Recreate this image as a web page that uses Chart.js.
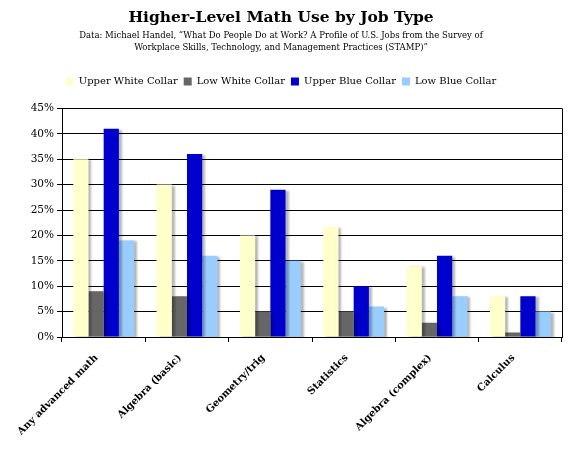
<!DOCTYPE html>
<html>
<head>
<meta charset="utf-8">
<script src="https://cdn.jsdelivr.net/npm/chart.js@4"></script>
<style>
  html, body { margin: 0; padding: 0; background: #fff; }
  #wrap { width: 568px; height: 451px; }
</style>
</head>
<body>
<div id="wrap"><canvas id="chart" width="568" height="451"></canvas></div>
<script>
const categories = [
  "Any advanced math",
  "Algebra (basic)",
  "Geometry/trig",
  "Statistics",
  "Algebra (complex)",
  "Calculus",
];
const upperWhite = [35, 30, 20, 21.7, 13.9, 8];
const lowWhite = [9, 8, 5, 5, 2.8, 0.9];
const upperBlue = [41, 36, 29, 10, 16, 8];
const lowBlue = [19, 16, 15, 6, 8, 5];
const yTicks = [0, 5, 10, 15, 20, 25, 30, 35, 40, 45];

const serif = "'DejaVu Serif', serif";

// soft grey drop shadow behind the bars, like the original
const barShadow = {
  id: "barShadow",
  beforeDatasetsDraw(chart) {
    const ctx = chart.ctx;
    ctx.save();
    ctx.shadowColor = "rgba(0,0,0,0.28)";
    ctx.shadowOffsetX = 3;
    ctx.shadowOffsetY = 1;
    ctx.shadowBlur = 2;
  },
  afterDatasetsDraw(chart) {
    chart.ctx.restore();
  },
};

// extra gap under the legend
const legendGap = {
  id: "legendGap",
  beforeLayout(chart) {
    const lg = chart.legend;
    if (lg && !lg._gapPatched) {
      const fit = lg.fit.bind(lg);
      lg.fit = function () {
        fit();
        this.height += 12;
      };
      lg._gapPatched = true;
    }
  },
};

// right-hand frame line
const frame = {
  id: "frame",
  afterDraw(chart) {
    const { ctx, chartArea } = chart;
    ctx.save();
    ctx.strokeStyle = "#000";
    ctx.lineWidth = 1;
    ctx.beginPath();
    ctx.moveTo(Math.round(chartArea.right) + 0.5, chartArea.top);
    ctx.lineTo(Math.round(chartArea.right) + 0.5, chartArea.bottom);
    ctx.stroke();
    ctx.restore();
  },
};

new Chart(document.getElementById("chart").getContext("2d"), {
  type: "bar",
  data: {
    labels: categories,
    datasets: [
      { label: "Upper White Collar", data: upperWhite, backgroundColor: "#FFFFCC" },
      { label: "Low White Collar", data: lowWhite, backgroundColor: "#666666" },
      { label: "Upper Blue Collar", data: upperBlue, backgroundColor: "#0000CC" },
      { label: "Low Blue Collar", data: lowBlue, backgroundColor: "#99CCFF" },
    ],
  },
  plugins: [barShadow, legendGap, frame],
  options: {
    responsive: false,
    animation: false,
    layout: { padding: { left: 0, right: 6, top: 0, bottom: 0 } },
    datasets: {
      bar: { categoryPercentage: 0.73, barPercentage: 1.0 },
    },
    plugins: {
      title: {
        display: true,
        text: "Higher-Level Math Use by Job Type",
        color: "#000",
        font: { family: serif, size: 15.5, weight: "bold" },
        padding: { top: 9, bottom: 2 },
      },
      subtitle: {
        display: true,
        text: [
          "Data: Michael Handel, \u201cWhat Do People Do at Work? A Profile of U.S. Jobs from the Survey of",
          "Workplace Skills, Technology, and Management Practices (STAMP)\u201d",
        ],
        color: "#000",
        font: { family: serif, size: 8.5, lineHeight: 1.4 },
        padding: { top: 0, bottom: 17 },
      },
      legend: {
        position: "top",
        align: "center",
        labels: {
          color: "#000",
          font: { family: serif, size: 10 },
          boxWidth: 8,
          boxHeight: 8,
          padding: 6,
        },
      },
      tooltip: { enabled: false },
    },
    scales: {
      x: {
        grid: {
          drawOnChartArea: false,
          color: "#000",
          tickLength: 5,
          offset: true,
        },
        border: { color: "#000" },
        ticks: {
          color: "#000",
          font: { family: serif, size: 10, weight: "bold" },
          maxRotation: 45,
          minRotation: 45,
          labelOffset: -7,
          padding: 10,
        },
        afterFit(scale) {
          scale.height = 114;
        },
      },
      y: {
        min: 0,
        max: 45,
        afterBuildTicks(scale) {
          scale.ticks = yTicks.map((v) => ({ value: v }));
        },
        grid: { color: "#000", tickLength: 5 },
        border: { color: "#000" },
        ticks: {
          color: "#000",
          font: { family: serif, size: 10.5 },
          padding: 3,
          callback: (v) => v + "%",
        },
        afterFit(scale) {
          scale.width = 62;
        },
      },
    },
  },
});
</script>
</body>
</html>
